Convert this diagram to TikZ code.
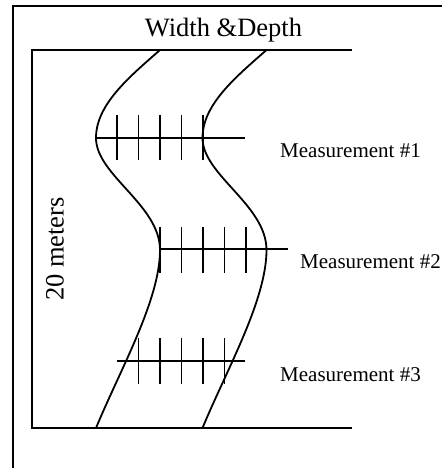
\documentclass[tikz,border=0pt]{standalone}
\usepackage{fontspec}
\setmainfont{Liberation Serif}

% one bank of the stream, drawn twice
\newcommand{\streambank}{(160,50) .. controls (128,78) and (96,105) .. (96,138)
  .. controls (96,175) and (160,205) .. (160,250)
  .. controls (160,300) and (120,370) .. (96,428)}

\tikzset{
  frameline/.style={line width=2.3pt},
  bankline/.style={line width=1.8pt},
  gauge/.style={line width=1.8pt},
  measlabel/.style={font=\fontsize{21}{24}\selectfont, inner sep=0pt, anchor=base west},
}

\begin{document}
\begin{tikzpicture}[x=1pt, y=-1pt]
    \useasboundingbox (0,0) rectangle (442,468);
    % outer frame
    \draw[frameline] (13,468) -- (13,6) -- (442,6);
    % site outline
    \draw[bankline] (352,50) -- (32,50) -- (32,428) -- (352,428);
    \draw[bankline] \streambank;
    \draw[bankline, shift={(106.5,0)}] \streambank;

    \node[font=\fontsize{26.5}{30}\selectfont, inner sep=0pt, anchor=base]
      (title) at (223.5,37) {Width \&Depth};
    \node[font=\fontsize{26.5}{30}\selectfont, inner sep=0pt, rotate=90]
      (length) at (55,249) {20 meters};

    % measurement 1
    \draw[gauge] (96,138) -- (245,138);
    \foreach \x in {117,138.5,160,181.5,203}
      \draw[gauge] (\x,115) -- (\x,160);
    \node[measlabel] (meas1) at (280,157.3) {Measurement \#1};

    % measurement 2
    \draw[gauge] (160,249) -- (288,249);
    \foreach \x in {160,181.5,203,224.5,246}
      \draw[gauge] (\x,227) -- (\x,273);
    \node[measlabel] (meas2) at (300,268) {Measurement \#2};

    % measurement 3
    \draw[gauge] (117,361) -- (245,361);
    \foreach \x in {138.5,160,181.5,203,224.5}
      \draw[gauge] (\x,338) -- (\x,384);
    \node[measlabel] (meas3) at (280,381) {Measurement \#3};
  \end{tikzpicture}
\end{document}
